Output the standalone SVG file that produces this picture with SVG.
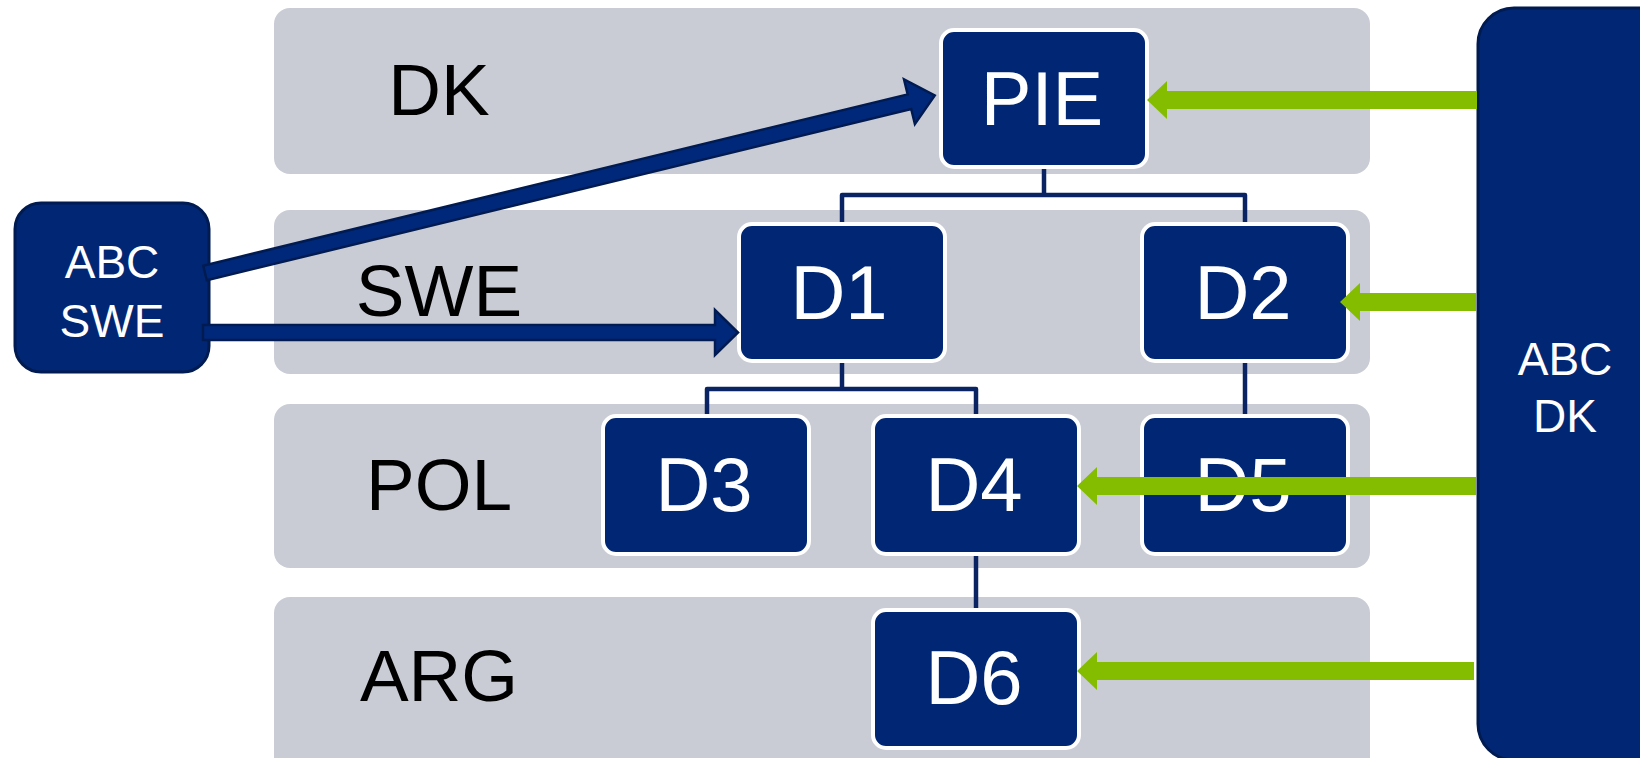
<svg xmlns="http://www.w3.org/2000/svg" width="1640" height="758" viewBox="0 0 1640 758">
  <style>
    .lane { fill: #C9CCD5; }
    .lane-label { font-family: "Liberation Sans", Arial, sans-serif; font-size: 73px; fill: #000000; text-anchor: middle; }
    .box { fill: #012774; stroke: #FFFFFF; stroke-width: 4; }
    .box-label { font-family: "Liberation Sans", Arial, sans-serif; font-size: 76px; fill: #FFFFFF; text-anchor: middle; }
    .side { fill: #012774; stroke: #001B52; stroke-width: 3; }
    .side-label { font-family: "Liberation Sans", Arial, sans-serif; font-size: 46px; fill: #FFFFFF; text-anchor: middle; }
    .tree { fill: none; stroke: #0A2463; stroke-width: 4.5; stroke-linejoin: round; }
    .navy-arrow { fill: #00287A; stroke: #001B52; stroke-width: 2.5; stroke-linejoin: miter; }
    .green-arrow { fill: #84BD00; }
  </style>

  <g id="lanes">
    <g id="lane-dk">
      <rect class="lane" x="274" y="8" width="1096" height="166" rx="16"/>
      <text class="lane-label" x="439" y="115">DK</text>
    </g>
    <g id="lane-swe">
      <rect class="lane" x="274" y="210" width="1096" height="164" rx="16"/>
      <text class="lane-label" x="439" y="316">SWE</text>
    </g>
    <g id="lane-pol">
      <rect class="lane" x="274" y="404" width="1096" height="164" rx="16"/>
      <text class="lane-label" x="439" y="510">POL</text>
    </g>
    <g id="lane-arg">
      <rect class="lane" x="274" y="597" width="1096" height="180" rx="16"/>
      <text class="lane-label" x="439" y="701">ARG</text>
    </g>
  </g>

  <g id="node-abc-swe">
    <rect class="side" x="15" y="203" width="194" height="169" rx="26"/>
    <text class="side-label" x="112" y="278">ABC</text>
    <text class="side-label" x="112" y="337">SWE</text>
  </g>

  <g id="node-abc-dk">
    <rect class="side" x="1478" y="8" width="200" height="752" rx="36"/>
    <text class="side-label" x="1565" y="375">ABC</text>
    <text class="side-label" x="1565" y="432">DK</text>
  </g>

  <g id="node-pie">
    <rect class="box" x="941" y="30" width="206" height="137" rx="13"/>
    <text class="box-label" x="1042" y="125">PIE</text>
  </g>
  <g id="node-d1">
    <rect class="box" x="739" y="224" width="206" height="137" rx="13"/>
    <text class="box-label" x="839" y="319">D1</text>
  </g>
  <g id="node-d2">
    <rect class="box" x="1142" y="224" width="206" height="137" rx="13"/>
    <text class="box-label" x="1243" y="319">D2</text>
  </g>
  <g id="node-d3">
    <rect class="box" x="603" y="416" width="206" height="138" rx="13"/>
    <text class="box-label" x="704" y="511">D3</text>
  </g>
  <g id="node-d4">
    <rect class="box" x="873" y="416" width="206" height="138" rx="13"/>
    <text class="box-label" x="974" y="511">D4</text>
  </g>
  <g id="node-d5">
    <rect class="box" x="1142" y="416" width="206" height="138" rx="13"/>
    <text class="box-label" x="1243" y="511">D5</text>
  </g>
  <g id="node-d6">
    <rect class="box" x="873" y="610" width="206" height="138" rx="13"/>
    <text class="box-label" x="974" y="704">D6</text>
  </g>

  <g id="connectors">
    <path class="tree" d="M842,222 V195 H1245 V222 M1044,169 V195"/>
    <path class="tree" d="M707,414 V389 H976 V414 M842,363 V389"/>
    <path class="tree" d="M1245,363 V414"/>
    <path class="tree" d="M976,556 V608"/>

    <polygon class="navy-arrow" transform="translate(205,273) rotate(-13.67)" points="0,-7.5 725,-7.5 725,-23 751,0 725,23 725,7.5 0,7.5"/>
    <polygon class="navy-arrow" points="203,325 715,325 715,310 738,332.5 715,355 715,340 203,340"/>

    <polygon class="green-arrow" points="1477,91 1167,91 1167,81 1147,100 1167,119 1167,109 1477,109"/>
    <polygon class="green-arrow" points="1476,293 1360,293 1360,283 1340,302 1360,321 1360,311 1476,311"/>
    <polygon class="green-arrow" points="1476,477 1097,477 1097,467 1077,486 1097,505 1097,495 1476,495"/>
    <polygon class="green-arrow" points="1474,662 1097,662 1097,652 1077,671 1097,690 1097,680 1474,680"/>
  </g>
</svg>
